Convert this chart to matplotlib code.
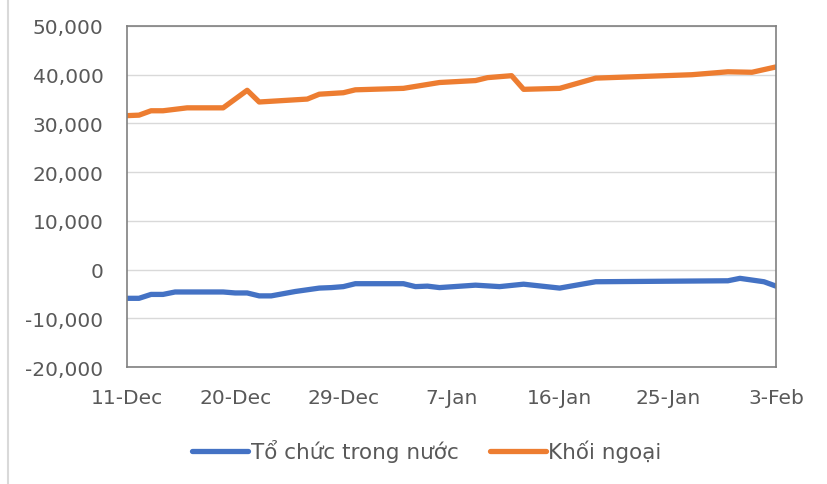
import datetime
import numpy as np
import matplotlib
matplotlib.use('Agg')
import matplotlib.pyplot as plt
import matplotlib.dates as mdates
from matplotlib.lines import Line2D
from matplotlib.ticker import FuncFormatter

start = datetime.date(2019, 12, 11)

# vertices: (days after 11-Dec, value)
domestic_days = [0, 1, 2, 3, 4, 8, 9, 10, 11, 12, 14, 16, 17, 18, 19, 23, 24, 25, 26,
                 29, 31, 33, 36, 39, 50, 51, 53, 54]
domestic_vals = [-5900, -5900, -5100, -5100, -4600, -4600, -4800, -4800, -5400, -5400,
                 -4500, -3800, -3700, -3500, -2900, -2900, -3500, -3400, -3700,
                 -3200, -3500, -3000, -3800, -2500, -2300, -1800, -2500, -3400]

foreign_days = [0, 1, 2, 3, 5, 8, 10, 11, 15, 16, 18, 19, 23, 26, 29, 30, 32, 33, 36,
                39, 47, 50, 52, 54]
foreign_vals = [31600, 31700, 32600, 32600, 33200, 33200, 36800, 34400, 35000, 36000,
                36300, 36900, 37200, 38400, 38800, 39400, 39800, 37000, 37200,
                39300, 40000, 40600, 40500, 41600]

series_names = ["Tổ chức trong nước", "Khối ngoại"]
series_colors = ["#4472C4", "#ED7D31"]

tick_days = [0, 9, 18, 27, 36, 45, 54]
y_ticks = [-20000, -10000, 0, 10000, 20000, 30000, 40000, 50000]

def to_dates(days):
    return [start + datetime.timedelta(days=d) for d in days]

plt.rcParams['font.family'] = ['DejaVu Sans']
text_col = "#595959"

fig = plt.figure(figsize=(8.27, 4.85), dpi=100)
W, H = 827, 485
ax = fig.add_axes([127 / W, 1 - 368 / H, (776 - 127) / W, (368 - 27) / H])

ax.plot(to_dates(domestic_days), domestic_vals, color=series_colors[0], lw=3.8,
        solid_joinstyle='round', solid_capstyle='round', label=series_names[0])
ax.plot(to_dates(foreign_days), foreign_vals, color=series_colors[1], lw=3.8,
        solid_joinstyle='round', solid_capstyle='round', label=series_names[1])

ax.set_ylim(-20000, 50000)
ax.set_yticks(y_ticks)
ax.yaxis.set_major_formatter(FuncFormatter(lambda v, p: f"{int(v):,}"))
ax.set_xlim(start, start + datetime.timedelta(days=54))
ax.set_xticks(to_dates(tick_days))
ax.xaxis.set_major_formatter(mdates.DateFormatter('%-d-%b'))

ax.grid(True, axis='y', color="#d9d9d9", lw=1)
ax.set_axisbelow(True)
for s in ax.spines.values():
    s.set_color("#808080")
    s.set_linewidth(1.2)
ax.tick_params(axis='both', length=0, labelsize=14.5, colors=text_col)
ax.tick_params(axis='y', pad=17)
ax.tick_params(axis='x', pad=15)

fig.legend(loc='center', bbox_to_anchor=(0.516, 1 - 452 / H), ncol=2, frameon=False,
           fontsize=15.5, handlelength=2.6, handletextpad=0.12, columnspacing=1.45,
           labelcolor=text_col)

fig.add_artist(Line2D([8 / W, 8 / W], [0, 1], color="#d9d9d9", lw=1.5,
                      transform=fig.transFigure))

plt.savefig("out.png", dpi=100)
plt.close()
